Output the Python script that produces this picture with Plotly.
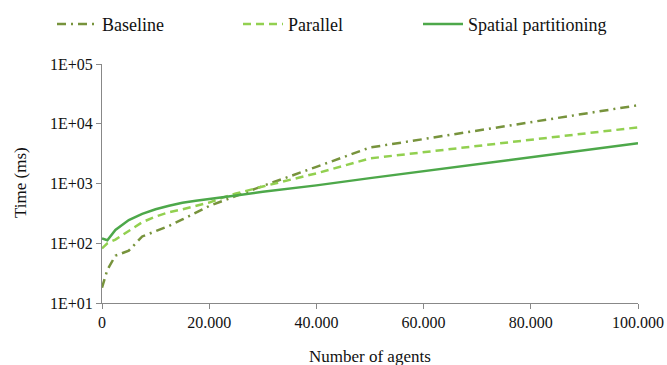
import plotly.graph_objects as go

agents = [0, 1000, 2500, 5000, 7500, 10000, 12500, 15000, 17500, 20000, 22500, 25000, 30000, 40000, 50000, 100000]
baseline = [18, 36, 62, 75, 130, 160, 195, 250, 320, 420, 510, 620, 910, 1900, 4000, 20400]
parallel = [82, 100, 115, 160, 225, 280, 330, 370, 420, 480, 580, 680, 890, 1480, 2630, 8700]
spatial = [120, 112, 167, 245, 310, 370, 425, 475, 515, 555, 590, 630, 725, 930, 1230, 4700]

x_ticks = [0, 20000, 40000, 60000, 80000, 100000]
x_ticktext = ["0", "20.000", "40.000", "60.000", "80.000", "100.000"]
y_ticks = [10, 100, 1000, 10000, 100000]
y_ticktext = ["1E+01", "1E+02", "1E+03", "1E+04", "1E+05"]

FONT = "Liberation Serif"
W, H = 667, 365
ML, MR, MT, MB = 102, 29, 64, 62
PW, PH = W - ML - MR, H - MT - MB

fig = go.Figure()
fig.add_trace(go.Scatter(x=agents, y=baseline, mode="lines", name="Baseline", legend="legend",
                         line=dict(color="#77933C", width=2.5, dash="9px,5px,2px,5px")))
fig.add_trace(go.Scatter(x=agents, y=parallel, mode="lines", name="Parallel", legend="legend2",
                         line=dict(color="#92D050", width=2.5, dash="8px,5px")))
fig.add_trace(go.Scatter(x=agents, y=spatial, mode="lines", name="Spatial partitioning", legend="legend3",
                         line=dict(color="#4DA84A", width=2.5)))

def leg(xpx):
    return dict(orientation="h", xref="container", yref="container",
                x=xpx / W, y=0.984, xanchor="left", yanchor="top",
                font=dict(size=18, family=FONT), itemwidth=40,
                bgcolor="rgba(0,0,0,0)")

fig.update_layout(
    width=W, height=H,
    margin=dict(l=ML, r=MR, t=MT, b=MB, autoexpand=False),
    paper_bgcolor="white", plot_bgcolor="white",
    font=dict(family=FONT, size=16, color="#111111"),
    showlegend=True,
    legend=leg(52),
    legend2=leg(238),
    legend3=leg(418),
    xaxis=dict(range=[0, 100000], tickvals=x_ticks, ticktext=x_ticktext,
               showgrid=False, zeroline=False, showline=True, linecolor="#888888",
               linewidth=1, ticks="outside", ticklen=5, tickcolor="#888888",
               tickfont=dict(family=FONT, size=16, color="#111111")),
    yaxis=dict(type="log", range=[1, 5], tickvals=y_ticks, ticktext=y_ticktext,
               showgrid=False, zeroline=False, showline=True, linecolor="#888888",
               linewidth=1, ticks="outside", ticklen=5, tickcolor="#888888",
               tickfont=dict(family=FONT, size=16, color="#111111")),
    annotations=[
        dict(text="Number of agents", xref="paper", yref="paper",
             x=(370 - ML) / PW, y=-(356 - (MT + PH)) / PH, xanchor="center", yanchor="middle",
             showarrow=False, font=dict(family=FONT, size=17, color="#111111")),
        dict(text="Time (ms)", xref="paper", yref="paper", textangle=-90,
             x=-(ML - 20) / PW, y=(MT + PH - 183) / PH, xanchor="center", yanchor="middle",
             showarrow=False, font=dict(family=FONT, size=17, color="#111111")),
    ],
)

fig.write_html("out.html")
